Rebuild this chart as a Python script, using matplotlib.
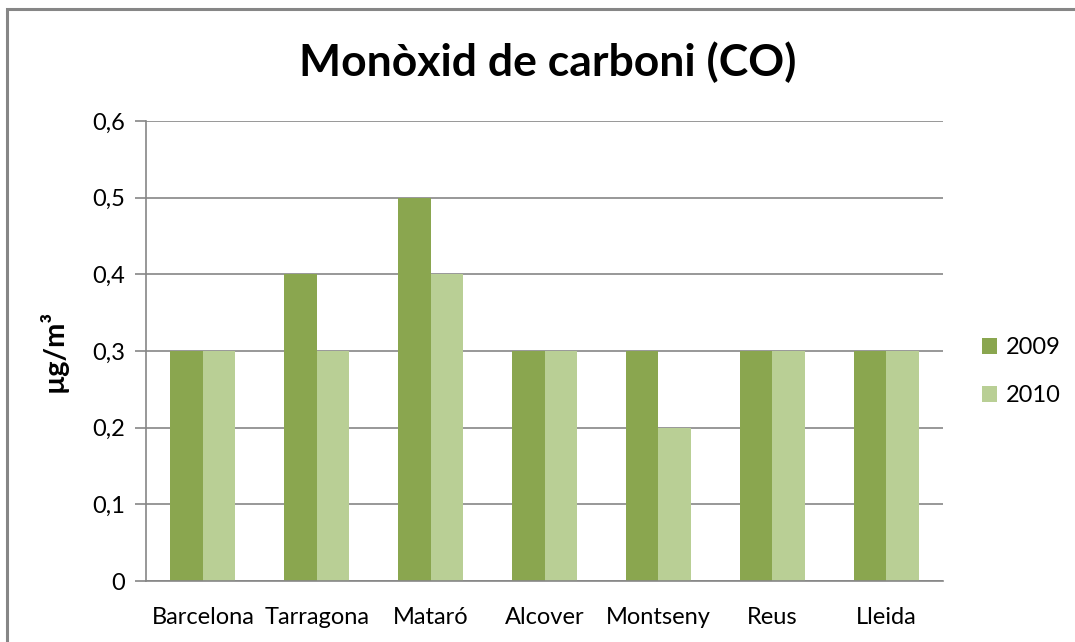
import numpy as np
import matplotlib.pyplot as plt
from matplotlib.patches import Rectangle

cities = ["Barcelona", "Tarragona", "Mataró", "Alcover", "Montseny", "Reus", "Lleida"]
co_2009 = [0.3, 0.4, 0.5, 0.3, 0.3, 0.3, 0.3]
co_2010 = [0.3, 0.3, 0.4, 0.3, 0.2, 0.3, 0.3]
yticks = [0, 0.1, 0.2, 0.3, 0.4, 0.5, 0.6]
ytick_labels = ["0", "0,1", "0,2", "0,3", "0,4", "0,5", "0,6"]

plt.rcParams["font.family"] = ["Lato", "DejaVu Sans"]
grey = "#868686"

fig = plt.figure(figsize=(10.75, 6.42), dpi=100)
# outer chart border (right and bottom edges fall outside the image)
fig.patches.append(Rectangle((7 / 1075, -0.05), 1.1, 1 - 8.5 / 642 + 0.05,
                             transform=fig.transFigure, fill=False,
                             edgecolor=grey, linewidth=2.2))

ax = fig.add_axes([146 / 1075, 1 - 581 / 642, 797 / 1075, 460 / 642])
x = np.arange(len(cities))
w = 1 / 3.5
ax.bar(x - w / 2, co_2009, w, color="#8aa64f", label="2009", zorder=2)
ax.bar(x + w / 2, co_2010, w, color="#b9cf95", label="2010", zorder=2)

ax.set_xlim(-0.5, len(cities) - 0.5)
ax.set_ylim(0, 0.6)
ax.set_yticks(yticks)
ax.set_yticklabels(ytick_labels)
ax.set_xticks(x)
ax.set_xticklabels(cities)
ax.tick_params(axis="x", length=0, labelsize=17, pad=19)
ax.tick_params(axis="y", length=8, color=grey, width=1.2, labelsize=17, pad=7)
ax.grid(axis="y", color=grey, linewidth=1.2, zorder=1)
for s in ["top", "right"]:
    ax.spines[s].set_visible(False)
for s in ["left", "bottom"]:
    ax.spines[s].set_color(grey)
    ax.spines[s].set_linewidth(1.2)

ax.set_ylabel("µg/m³", fontsize=21, fontweight="bold", labelpad=18)
fig.text(548 / 1075, 1 - 62 / 642, "Monòxid de carboni (CO)", fontsize=32,
         fontweight="bold", ha="center", va="center")

ax.legend(loc="center left", bbox_to_anchor=(1.022, 0.455), frameon=False,
          fontsize=17, handlelength=0.65, handleheight=0.65,
          labelspacing=1.15, handletextpad=0.35)

fig.savefig("out.png", dpi=100)
